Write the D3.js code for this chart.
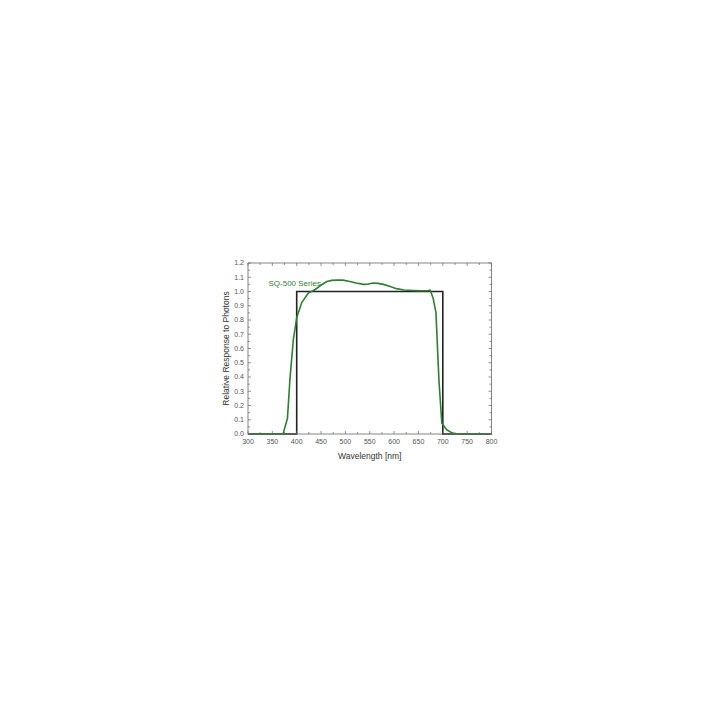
<!DOCTYPE html>
<html>
<head>
<meta charset="utf-8">
<script src="https://cdn.jsdelivr.net/npm/d3@7"></script>
<style>
  body { margin: 0; background: #fff; }
  text { font-family: "Liberation Sans", Arial, sans-serif; }
</style>
</head>
<body>
<div id="chart"></div>
<script>
// SQ-500 measured response (wavelength nm, relative response)
var sqWavelength = [300, 372, 381, 386, 393, 400, 410, 424, 438, 448, 462, 472, 482, 495, 509, 522, 537, 547, 557, 567, 578, 592, 605, 620, 639, 655, 670, 674, 680, 686, 692, 698, 708, 718, 725, 800];
var sqResponse   = [0.0, 0.0, 0.11, 0.38, 0.66, 0.815, 0.92, 0.99, 1.014, 1.04, 1.07, 1.078, 1.08, 1.08, 1.07, 1.06, 1.05, 1.052, 1.06, 1.057, 1.05, 1.035, 1.02, 1.01, 1.007, 1.005, 1.005, 1.01, 0.955, 0.85, 0.38, 0.075, 0.03, 0.01, 0.0, 0.0];

// ideal quantum response (step)
var idealWavelength = [300, 400, 400, 700, 700, 800];
var idealResponse   = [0, 0, 1, 1, 0, 0];

var xTicks = [300, 350, 400, 450, 500, 550, 600, 650, 700, 750, 800];
var yTicks = [0, 0.1, 0.2, 0.3, 0.4, 0.5, 0.6, 0.7, 0.8, 0.9, 1.0, 1.1, 1.2];

function createGraph() {
    var margin = {left: 248, top: 263, right: 720 - 491.5, bottom: 720 - 434},
        width = 720 - margin.left - margin.right,
        height = 720 - margin.top - margin.bottom;

    var x = d3.scaleLinear().domain([300, 800]).range([0, width]);
    var y = d3.scaleLinear().domain([0, 1.2]).range([height, 0]);

    var svg = d3.select("#chart").append("svg")
        .attr("width", 720)
        .attr("height", 720);
    var canvas = svg.append("g")
        .attr("transform", "translate(" + margin.left + "," + margin.top + ")");

    var line = d3.line()
        .x(function(d) { return x(d[0]); })
        .y(function(d) { return y(d[1]); });

    var ideal = idealWavelength.map(function(w, i) { return [w, idealResponse[i]]; });
    var sq = sqWavelength.map(function(w, i) { return [w, sqResponse[i]]; });

    canvas.append("path")
        .datum(ideal)
        .attr("d", line)
        .attr("fill", "none")
        .attr("stroke", "#222")
        .attr("stroke-width", 1.6);

    canvas.append("path")
        .datum(sq)
        .attr("d", line)
        .attr("fill", "none")
        .attr("stroke", "#2f7f33")
        .attr("stroke-width", 1.6)
        .attr("stroke-linejoin", "round");

    // frame
    canvas.append("rect")
        .attr("width", width)
        .attr("height", height)
        .attr("fill", "none")
        .attr("stroke", "#666")
        .attr("stroke-width", 0.8);

    // minor ticks
    var xMinor = d3.range(300, 801, 25);
    var yMinor = d3.range(0, 1.201, 0.05);
    var tickColor = "#666";

    xMinor.forEach(function(v) {
        var len = (v % 50 === 0) ? 3 : 2;
        canvas.append("line").attr("x1", x(v)).attr("x2", x(v))
            .attr("y1", height).attr("y2", height - len).attr("stroke", tickColor).attr("stroke-width", 0.7);
        canvas.append("line").attr("x1", x(v)).attr("x2", x(v))
            .attr("y1", 0).attr("y2", len).attr("stroke", tickColor).attr("stroke-width", 0.7);
    });
    yMinor.forEach(function(v, i) {
        var len = (i % 2 === 0) ? 3 : 2;
        canvas.append("line").attr("x1", 0).attr("x2", len)
            .attr("y1", y(v)).attr("y2", y(v)).attr("stroke", tickColor).attr("stroke-width", 0.7);
        canvas.append("line").attr("x1", width).attr("x2", width - len)
            .attr("y1", y(v)).attr("y2", y(v)).attr("stroke", tickColor).attr("stroke-width", 0.7);
    });

    // tick labels
    canvas.selectAll(".xl").data(xTicks).enter().append("text")
        .attr("x", function(d) { return x(d); })
        .attr("y", height + 10)
        .attr("text-anchor", "middle")
        .style("font-size", "7px")
        .style("fill", "#555")
        .text(function(d) { return d; });

    canvas.selectAll(".yl").data(yTicks).enter().append("text")
        .attr("x", -4)
        .attr("y", function(d) { return y(d); })
        .attr("dy", "0.35em")
        .attr("text-anchor", "end")
        .style("font-size", "7px")
        .style("fill", "#555")
        .text(function(d) { return d.toFixed(1); });

    // axis titles
    canvas.append("text")
        .attr("x", width / 2)
        .attr("y", height + 25)
        .attr("text-anchor", "middle")
        .style("font-size", "8.5px")
        .style("fill", "#333")
        .text("Wavelength [nm]");

    canvas.append("text")
        .attr("transform", "rotate(-90)")
        .attr("x", -height / 2)
        .attr("y", -19)
        .attr("text-anchor", "middle")
        .style("font-size", "8.5px")
        .style("fill", "#333")
        .text("Relative Response to Photons");

    // series label
    canvas.append("text")
        .attr("x", x(342))
        .attr("y", y(1.04))
        .attr("text-anchor", "start")
        .style("font-size", "8px")
        .style("fill", "#2f7f33")
        .text("SQ-500 Series");
}

createGraph();
</script>
</body>
</html>
